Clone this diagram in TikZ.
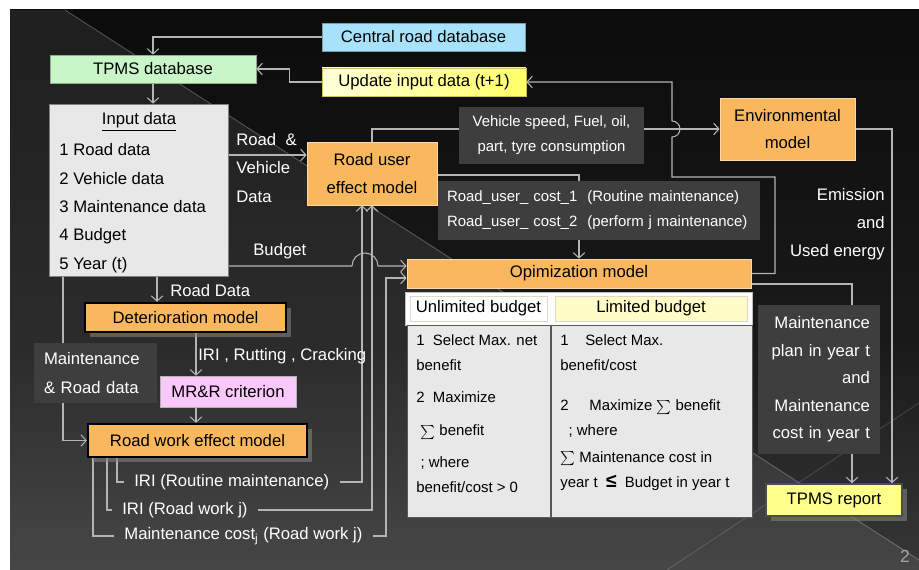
\documentclass[tikz,border=0pt]{standalone}
\usepackage{fontspec}
\setmainfont{Liberation Sans}
\usetikzlibrary{arrows.meta,shadows}

\definecolor{modelorange}{RGB}{250,184,94}
\definecolor{boxgrey}{RGB}{62,62,62}
\definecolor{wiregrey}{RGB}{180,180,180}
\definecolor{skyblue}{RGB}{168,226,250}
\definecolor{mintgreen}{RGB}{200,246,200}
\definecolor{pinkbox}{RGB}{250,200,250}
\definecolor{panelgrey}{RGB}{232,232,232}
\definecolor{reportyellow}{RGB}{255,255,140}
\definecolor{slidegrey}{RGB}{92,92,92}

\pgfdeclarelayer{backdrop}
\pgfdeclarelayer{wires}
\pgfsetlayers{backdrop,wires,main}
\pgfdeclareverticalshading{slideshade}{100bp}{color(0bp)=(slidegrey); color(45bp)=(black!90); color(100bp)=(black)}

\newcommand{\sumsign}{\raisebox{0.5pt}{\scalebox{0.8}{$\sum$}}}

\tikzset{
  txt/.style={font=\fontsize{9.5}{16}\selectfont},
  smalltxt/.style={font=\fontsize{8.5}{14.2}\selectfont},
  box/.style={txt, inner sep=0pt, align=center, text=black},
  orangebox/.style={box, fill=modelorange, draw=modelorange!55!white, line width=0.4pt},
  heavybox/.style={box, fill=modelorange, draw=black, line width=1.3pt, drop shadow={opacity=0.6}},
  greybox/.style={fill=boxgrey, text=white, inner sep=0pt},
  lbl/.style={txt, text=white, inner sep=0pt},
  wire/.style={draw=wiregrey, line width=0.6pt},
  conn/.style={wire, -{Straight Barb[length=3pt,width=6.5pt]}},
}

\begin{document}
\begin{tikzpicture}[x=0.02cm,y=-0.02cm]
\useasboundingbox (0,0) rectangle (919,570);

% Slide background
\begin{pgfonlayer}{backdrop}
\fill[white] (0,0) rectangle (919,570);
\shade[shading=slideshade] (10,10) rectangle (919,570);
\fill[white,opacity=0.08] (10,10) -- (65,10) -- (919,560) -- (919,570) -- (10,570) -- cycle;
\draw[white,opacity=0.25,line width=0.5pt] (65,10) -- (919,560);
\draw[white,opacity=0.15,line width=0.5pt] (667,570) -- (919,403);
\end{pgfonlayer}

% Databases
\node[box, fill=skyblue, draw=skyblue!70!black, minimum width=4.06cm, minimum height=0.56cm] (cdb) at (423.5,37) {Central road database};
\node[box, fill=mintgreen, draw=mintgreen!70!black, minimum width=4.12cm, minimum height=0.56cm] (tpms) at (153,69) {TPMS database};
\node[box, left color=yellow!15, right color=yellow!60, draw=yellow!50!gray, minimum width=4.08cm, minimum height=0.56cm] (upd) at (424,82) {Update input data (t+1)};

% Input data
\node[box, fill=panelgrey, draw=gray, minimum width=3.58cm, minimum height=3.44cm] (inp) at (138.5,190) {};
\node[box] (inptitle) at (139,122) {\underline{Input data}};
\foreach \entry [count=\i] in {Road data, Vehicle data, Maintenance data, Budget, Year (t)}
  \node[lbl, text=black, anchor=base west] (inp\i) at (59,127.7+28.3*\i) {\i\ \entry};

% Models
\node[orangebox, minimum width=2.6cm, minimum height=1.26cm] (ruem) at (372,173.5) {Road user\\effect model};
\node[orangebox, minimum width=2.7cm, minimum height=1.24cm, font=\fontsize{9.5}{15.3}\selectfont] (env) at (787.5,129) {Environmental\\model};
\node[orangebox, minimum width=6.88cm, minimum height=0.58cm] (opt) at (579,273.5) {Opimization model};
\node[heavybox, minimum width=4.02cm, minimum height=0.58cm] (det) at (185.5,317.5) {Deterioration model};
\node[box, fill=pinkbox, draw=gray!60, minimum width=2.72cm, minimum height=0.62cm] (mrr) at (228,391.5) {MR\&R criterion};
\node[heavybox, minimum width=4.38cm, minimum height=0.66cm] (rwe) at (197.5,440.5) {Road work effect model};
\node[box, fill=reportyellow, draw=black!70, line width=0.8pt, minimum width=2.72cm, minimum height=0.64cm, drop shadow={opacity=0.6}] (rep) at (834,500) {TPMS report};

% Grey data boxes
\node[greybox, smalltxt, align=center, minimum width=3.7cm, minimum height=1.14cm] (vsp) at (551.5,135.5) {Vehicle speed, Fuel, oil,\\part, tyre consumption};
\node[greybox, smalltxt, align=left, inner xsep=0.18cm, text width=6.08cm, minimum height=1.18cm] (ruc) at (599,210.5) {Road\_user\_ cost\_1\ \ (Routine maintenance)\\Road\_user\_ cost\_2\ \ (perform j maintenance)};
\node[greybox, txt, align=left, inner xsep=0.2cm, text width=2.06cm, minimum height=1.2cm] (mrd) at (95.5,373) {Maintenance\\\& Road data};
\node[greybox, txt, align=right, inner xsep=0.2cm, text width=2.04cm, minimum height=2.98cm, font=\fontsize{9.5}{15.7}\selectfont] (mpl) at (819,379.5) {Maintenance\\plan in year t\\and\\Maintenance\\cost in year t};

% Optimization table
\node[box, fill=white, draw=gray!50, minimum width=6.94cm, minimum height=0.66cm] (hdr) at (578.5,308.5) {};
\node[box, fill=white, draw=yellow!20!gray!40, minimum width=2.74cm, minimum height=0.5cm] (unl) at (478.5,308.5) {Unlimited budget};
\node[box, fill=yellow!22, draw=yellow!20!gray!40, minimum width=3.84cm, minimum height=0.5cm] (lim) at (651,308.5) {Limited budget};
\node[box, fill=panelgrey, draw=gray!70!black, minimum width=6.9cm, minimum height=3.84cm] (body) at (579.5,421) {};
\draw[gray!70!black, line width=0.8pt] (body.north -| 551,0) -- (body.south -| 551,0);
\node[smalltxt, align=left, anchor=north west, inner sep=0pt] (unltext) at (416,334) {1\ \ Select Max. net\\benefit\\[4.5pt]2\ \ Maximize\\[4.5pt]\ \sumsign\ benefit\\[4pt]\ ; where\\benefit/cost > 0};
\node[smalltxt, align=left, anchor=north west, inner sep=0pt] (limtext) at (560,334) {1\ \ \ \ Select Max.\\benefit/cost\\[9pt]2\ \ \ \ \ Maximize \sumsign\ benefit\\\ \ ; where\\[1pt]\sumsign\ Maintenance cost in\\year t\ \ {\bfseries\fontsize{11}{11}\selectfont ≤}\ \ Budget in year t};

% Labels
\node[lbl, align=left, anchor=west] (rvlbl) at (236,168) {Road\ \ \&\\Vehicle\\Data};
\node[lbl, anchor=west] (budlbl) at (253,251) {Budget};
\node[lbl, anchor=west] (rdlbl) at (170,291) {Road Data};
\node[lbl, anchor=west] (irilbl) at (198,356) {IRI , Rutting , Cracking};
\node[lbl, align=right, anchor=east] (emlbl) at (885,224) {Emission\\and\\Used energy};
\node[lbl, anchor=west, inner xsep=0.2cm] (iri1) at (124,482) {IRI (Routine maintenance)};
\node[lbl, anchor=west, inner xsep=0.2cm] (iri2) at (112,510) {IRI (Road work j)};
\node[lbl, anchor=west, inner xsep=0.2cm] (mcost) at (114,536) {Maintenance cost\textsubscript{j} (Road work j)};
\node[text=gray!70, font=\fontsize{10}{12}\selectfont] (pgno) at (905,556) {2};

% Connectors
\begin{pgfonlayer}{wires}
\draw[conn] (cdb.west) -| (tpms.north);
\draw[conn] (upd.west) -- ++(-32,0) |- (tpms.east);
\draw[conn] (tpms.south) -- (tpms.south |- inp.north);
\draw[conn] (inp.east |- 0,155) -- (ruem.west |- 0,155);
\draw[conn] (inp.east |- 0,266) -- (352,266) arc[start angle=180,end angle=0,radius=0.26cm] -- (opt.west |- 0,266);
\draw[conn] (inp.south -| 157,0) -- (det.north -| 157,0);
\draw[conn] (inp.south -| 63,0) |- (rwe.west);
\draw[conn] (det.south -| 196,0) -- (mrr.north -| 196,0);
\draw[conn] (mrr.south -| 196,0) -- (rwe.north -| 196,0);
\draw[wire] (rwe.south -| 117,0) |- (iri1.west);
\draw[conn] (iri1.east) -| (ruem.south -| 362,0);
\draw[wire] (rwe.south -| 107,0) |- (iri2.west);
\draw[conn] (iri2.east) -| (ruem.south);
\draw[wire] (rwe.south -| 93,0) |- (mcost.west);
\draw[conn] (mcost.east) -| (386,278) -- (opt.west |- 0,278);
\draw[conn] (ruem.north) |- (env.west);
\draw[conn] (ruem.east |- 0,175) -| (opt.north);
\draw[conn] (opt.east) -| (775,177) -- (672,177) -- (672,137) arc[start angle=-90,end angle=90,radius=0.16cm] |- (upd.east);
\draw[conn] (env.east) -| (rep.north -| 892,0);
\draw[conn] (opt.east |- 0,284) -| (rep.north -| 852,0);
\end{pgfonlayer}
\end{tikzpicture}
\end{document}
